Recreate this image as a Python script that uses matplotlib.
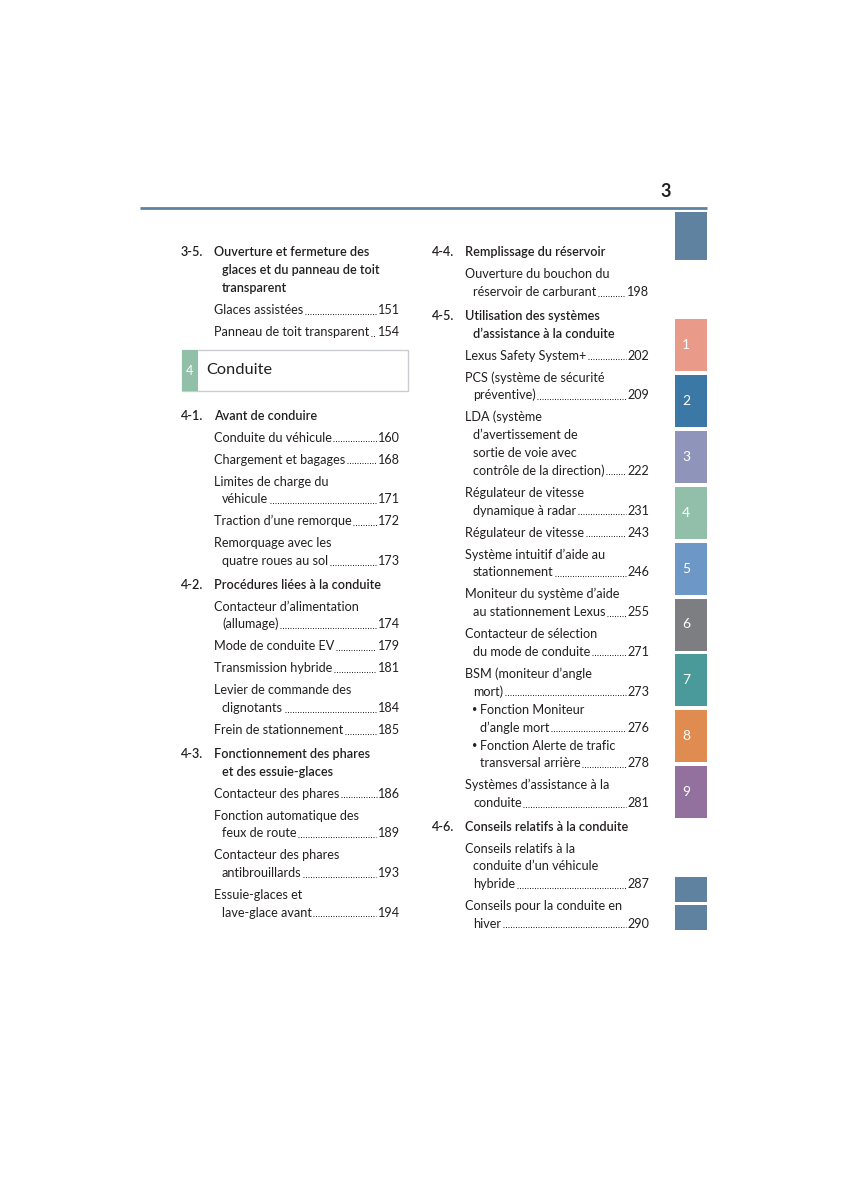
import matplotlib
matplotlib.use('Agg')
import matplotlib.pyplot as plt
from matplotlib.patches import Rectangle

FONT = ['Lato', 'DejaVu Sans']
TEXT = '#231f20'
BLUE = '#5e82a0'

# ---- content ----
page_number = '3'
chapter_num = '4'
chapter_title = 'Conduite'

tab_labels = ['1', '2', '3', '4', '5', '6', '7', '8', '9']
tab_colors = ['#e99a89', '#3b78a6', '#8f94ba', '#92bfa9', '#6c97c6',
              '#7c7e81', '#4a9a9a', '#e08b4f', '#93719e']

# (kind, number, lines, page)
left_entries = [
    ('head', '3-5.', ['Ouverture et fermeture des', 'glaces et du panneau de toit', 'transparent'], None),
    ('item', None, ['Glaces assistées'], '151'),
    ('item', None, ['Panneau de toit transparent'], '154'),
    ('chapter', None, [], None),
    ('head', '4-1.', ['Avant de conduire'], None),
    ('item', None, ['Conduite du véhicule'], '160'),
    ('item', None, ['Chargement et bagages'], '168'),
    ('item', None, ['Limites de charge du', 'véhicule'], '171'),
    ('item', None, ['Traction d\u2019une remorque'], '172'),
    ('item', None, ['Remorquage avec les', 'quatre roues au sol'], '173'),
    ('head', '4-2.', ['Procédures liées à la conduite'], None),
    ('item', None, ['Contacteur d\u2019alimentation', '(allumage)'], '174'),
    ('item', None, ['Mode de conduite EV'], '179'),
    ('item', None, ['Transmission hybride'], '181'),
    ('item', None, ['Levier de commande des', 'clignotants'], '184'),
    ('item', None, ['Frein de stationnement'], '185'),
    ('head', '4-3.', ['Fonctionnement des phares', 'et des essuie-glaces'], None),
    ('item', None, ['Contacteur des phares'], '186'),
    ('item', None, ['Fonction automatique des', 'feux de route'], '189'),
    ('item', None, ['Contacteur des phares', 'antibrouillards'], '193'),
    ('item', None, ['Essuie-glaces et', 'lave-glace avant'], '194'),
]

right_entries = [
    ('head', '4-4.', ['Remplissage du réservoir'], None),
    ('item', None, ['Ouverture du bouchon du', 'réservoir de carburant'], '198'),
    ('head', '4-5.', ['Utilisation des systèmes', 'd\u2019assistance à la conduite'], None),
    ('item', None, ['Lexus Safety System+'], '202'),
    ('item', None, ['PCS (système de sécurité', 'préventive)'], '209'),
    ('item', None, ['LDA (système', 'd\u2019avertissement de', 'sortie de voie avec',
                    'contrôle de la direction)'], '222'),
    ('item', None, ['Régulateur de vitesse', 'dynamique à radar'], '231'),
    ('item', None, ['Régulateur de vitesse'], '243'),
    ('item', None, ['Système intuitif d\u2019aide au', 'stationnement'], '246'),
    ('item', None, ['Moniteur du système d\u2019aide', 'au stationnement Lexus'], '255'),
    ('item', None, ['Contacteur de sélection', 'du mode de conduite'], '271'),
    ('item', None, ['BSM (moniteur d\u2019angle', 'mort)'], '273'),
    ('bullet', None, ['Fonction Moniteur', 'd\u2019angle mort'], '276'),
    ('bullet', None, ['Fonction Alerte de trafic', 'transversal arrière'], '278'),
    ('item', None, ['Systèmes d\u2019assistance à la', 'conduite'], '281'),
    ('head', '4-6.', ['Conseils relatifs à la conduite'], None),
    ('item', None, ['Conseils relatifs à la', 'conduite d\u2019un véhicule', 'hybride'], '287'),
    ('item', None, ['Conseils pour la conduite en', 'hiver'], '290'),
]

# ---- figure ----
fig = plt.figure(figsize=(8.48, 12), dpi=100)
ax = fig.add_axes([0, 0, 1, 1])
ax.set_xlim(0, 848)
ax.set_ylim(1200, 0)
ax.axis('off')
renderer = fig.canvas.get_renderer()

FS = 9.1
HFS = 9.1
LS = 17.8
BASE = 4.5  # centre -> baseline offset

# header rule and page number
ax.plot([140, 707], [208, 208], color=BLUE, lw=2.0, solid_capstyle='butt')
ax.text(671, 197, page_number, ha='right', va='baseline', fontsize=13,
        fontweight='bold', family=FONT, color=TEXT)

# side tabs
ax.add_patch(Rectangle((674.5, 212), 32.5, 48, color=BLUE, lw=0))
for i, (lab, col) in enumerate(zip(tab_labels, tab_colors)):
    top = 319 + i * 55.9
    ax.add_patch(Rectangle((674.5, top), 32.5, 52, color=col, lw=0))
    ax.text(686, top + 26, lab, ha='center', va='center', fontsize=10,
            family=FONT, color='white')
ax.add_patch(Rectangle((674.5, 877), 32.5, 24.5, color=BLUE, lw=0))
ax.add_patch(Rectangle((674.5, 905), 32.5, 25, color=BLUE, lw=0))


def put(x, y, s, **kw):
    return ax.text(x, y + BASE, s, va='baseline', family=FONT, color=TEXT, **kw)


def leader(t, n, y):
    # dotted leader between the entry text and its page number
    x1 = t.get_window_extent(renderer).x1 + 1.5
    x0 = n.get_window_extent(renderer).x0 - 1.5
    if x0 > x1:
        ax.plot([x1, x0], [y + BASE - 0.6] * 2, color=TEXT, lw=0.75,
                ls=(0, (0.9, 1.5)), dash_capstyle='butt')


def column(entries, xnum, xtext, xright, y0):
    y = y0
    prev = None
    for kind, num, lines, page in entries:
        if kind == 'chapter':
            top = y + 18
            ax.add_patch(Rectangle((181.5, top), 226.5, 41, fill=False,
                                   ec='#c9ccd0', lw=1.0))
            ax.add_patch(Rectangle((181.5, top), 16.5, 41, color='#92bfa9', lw=0))
            ax.text(189.5, top + 21, chapter_num, ha='center', va='center',
                    fontsize=9, family=FONT, color='white')
            ax.text(206, top + 20.5, chapter_title, ha='left', va='center',
                    fontsize=11.8, family=FONT, color=TEXT)
            y = top + 64 - 22
            prev = kind
            continue
        if prev is not None:
            if kind == 'head':
                y += 23.5
            elif kind == 'bullet':
                y += 18
            else:
                y += 22
        if kind == 'head':
            put(xnum, y, num, fontsize=HFS, fontweight='semibold')
            for i, ln in enumerate(lines):
                put(xtext if i == 0 else xtext + 8, y + i * LS, ln,
                    fontsize=HFS, fontweight='semibold')
        else:
            t = None
            if kind == 'bullet':
                put(xtext + 7, y - 1.5, '\u2022', fontsize=6.5)
                xs = [xtext + 15] * len(lines)
            else:
                xs = [xtext] + [xtext + 8] * (len(lines) - 1)
            for i, ln in enumerate(lines):
                t = put(xs[i], y + i * LS, ln, fontsize=FS)
            if page:
                yl = y + (len(lines) - 1) * LS
                n = put(xright, yl, page, fontsize=FS, ha='right')
                leader(t, n, yl)
        y = y + (len(lines) - 1) * LS
        prev = kind


column(left_entries, 181, 214, 400, 252)
column(right_entries, 432, 465, 649, 252)

fig.savefig('out.png', dpi=100, facecolor='white')
